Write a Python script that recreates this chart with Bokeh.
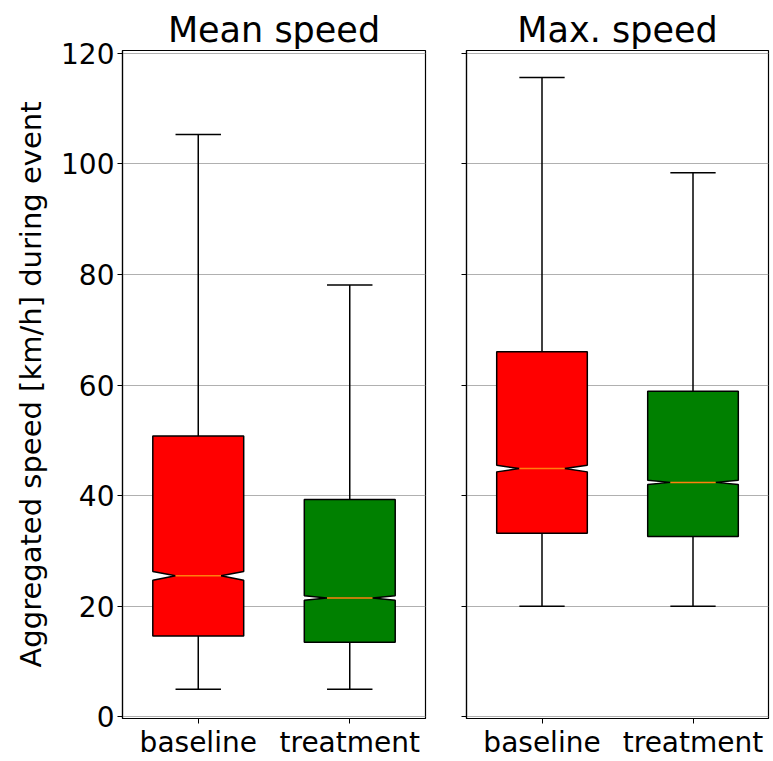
from bokeh.plotting import figure
from bokeh.layouts import row
from bokeh.models import FixedTicker, Range1d
from bokeh.embed import file_html
from bokeh.resources import INLINE

categories = ["baseline", "treatment"]
positions = [1, 2]

# Mean speed panel
mean_low = [5.0, 5.0]
mean_q1 = [14.6, 13.5]
mean_med = [25.5, 21.5]
mean_q3 = [50.8, 39.3]
mean_high = [105.3, 78.1]
mean_ci = [0.8, 0.4]

# Max. speed panel
max_low = [20.0, 20.0]
max_q1 = [33.2, 32.6]
max_med = [44.9, 42.4]
max_q3 = [66.0, 58.9]
max_high = [115.6, 98.4]
max_ci = [0.6, 0.4]

colors = ["#ff0000", "#008000"]
FONT = "DejaVu Sans"
BOX_W = 0.6


def make_panel(title, low, q1, med, q3, high, ci, width, border_left, border_right, show_labels):
    p = figure(width=width, height=761, output_backend="svg", toolbar_location=None,
               x_range=Range1d(0.5, 2.5), y_range=Range1d(-0.3, 120.5),
               min_border_left=border_left, min_border_right=border_right,
               min_border_top=50, min_border_bottom=43, title=title)
    p.title.align = "center"
    p.title.text_font = FONT
    p.title.text_font_size = "35px"
    p.title.text_font_style = "normal"
    p.title.text_color = "black"
    p.title.standoff = 2
    p.outline_line_color = "black"
    p.outline_line_width = 1.2
    p.background_fill_color = "white"
    p.border_fill_color = "white"

    xs, ys = [], []
    for x, a, m, b, c in zip(positions, q1, med, q3, ci):
        l, r = x - BOX_W / 2, x + BOX_W / 2
        n = BOX_W / 4
        xs.append([l, r, r, r - n, r, r, l, l, l + n, l])
        ys.append([a, a, m - c, m, m + c, b, b, m + c, m, m - c])

    # whiskers
    p.segment(x0=positions, y0=low, x1=positions, y1=q1, line_color="black", line_width=1.5)
    p.segment(x0=positions, y0=q3, x1=positions, y1=high, line_color="black", line_width=1.5)
    cap_l = [x - BOX_W / 4 for x in positions]
    cap_r = [x + BOX_W / 4 for x in positions]
    p.segment(x0=cap_l, y0=low, x1=cap_r, y1=low, line_color="black", line_width=1.5)
    p.segment(x0=cap_l, y0=high, x1=cap_r, y1=high, line_color="black", line_width=1.5)
    p.patches(xs=xs, ys=ys, fill_color=colors, line_color="black", line_width=1.5)
    p.segment(x0=cap_l, y0=med, x1=cap_r, y1=med, line_color="#ff7f0e", line_width=1.5)

    p.xaxis.ticker = FixedTicker(ticks=positions)
    p.xaxis.major_label_overrides = {pos: c for pos, c in zip(positions, categories)}
    p.yaxis.ticker = FixedTicker(ticks=[0, 20, 40, 60, 80, 100, 120])
    for ax in (p.xaxis[0], p.yaxis[0]):
        ax.axis_line_color = "black"
        ax.axis_line_width = 1.2
        ax.major_tick_line_color = "black"
        ax.major_tick_out = 5
        ax.major_tick_in = 0
        ax.minor_tick_line_color = None
        ax.major_label_text_font = FONT
        ax.major_label_text_font_size = "28px"
        ax.major_label_text_color = "black"
        ax.major_label_standoff = 3
    p.xaxis.major_label_standoff = 2
    if show_labels:
        p.yaxis.axis_label = "Aggregated speed [km/h] during event"
        p.yaxis.axis_label_text_font = FONT
        p.yaxis.axis_label_text_font_size = "29px"
        p.yaxis.axis_label_text_font_style = "normal"
        p.yaxis.axis_label_text_color = "black"
        p.yaxis.axis_label_standoff = 10
    else:
        p.yaxis.major_label_text_color = None
        p.yaxis.major_label_text_font_size = "1px"
    p.xgrid.grid_line_color = None
    p.ygrid.grid_line_color = "#b0b0b0"
    p.ygrid.grid_line_width = 1.2
    return p


p1 = make_panel("Mean speed", mean_low, mean_q1, mean_med, mean_q3, mean_high, mean_ci,
                445, 122, 20, True)
p2 = make_panel("Max. speed", max_low, max_q1, max_med, max_q3, max_high, max_ci,
                328, 21, 5, False)

layout = row(p1, p2)
open("out.html", "w").write(file_html(layout, INLINE))
